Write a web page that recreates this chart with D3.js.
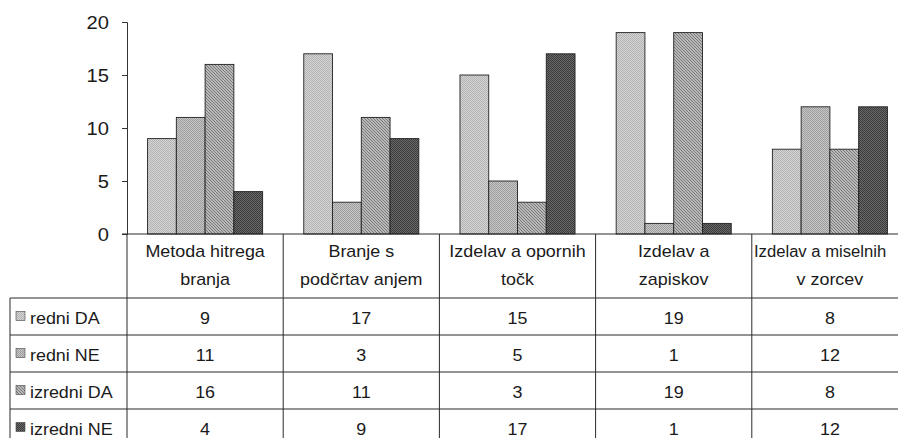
<!DOCTYPE html>
<html><head><meta charset="utf-8">
<script src="https://cdn.jsdelivr.net/npm/d3@7"></script>
<style>html,body{margin:0;padding:0;background:#fff;}svg{display:block;}</style>
</head><body>
<script>
const categories = [["Metoda hitrega","branja"],["Branje s","podčrtav anjem"],["Izdelav a opornih","točk"],["Izdelav a","zapiskov"],["Izdelav a miselnih","v zorcev"]];
const seriesNames = ["redni DA","redni NE","izredni DA","izredni NE"];
const rednDA = [9,17,15,19,8];
const rednNE = [11,3,5,1,12];
const izrDA = [16,11,3,19,8];
const izrNE = [4,9,17,1,12];
const yTicks = [0,5,10,15,20];
const values = [rednDA, rednNE, izrDA, izrNE];

const W = 898, H = 438;
const FONT = "'Liberation Sans', Arial, sans-serif";
const SX = 1.12;
const svg = d3.select("body").append("svg").attr("width", W).attr("height", H);
const defs = svg.append("defs");
const pats = [
  {a:"#d6d6d6", b:"#b2b2b2", diag:false},
  {a:"#c6c6c6", b:"#9e9e9e", diag:false},
  {a:"#b8b8b8", b:"#7a7a7a", diag:true},
  {a:"#6a6a6a", b:"#3a3a3a", diag:false}
];
pats.forEach((p,i)=>{
  if(p.diag){
    const pt = defs.append("pattern").attr("id","p"+i).attr("patternUnits","userSpaceOnUse").attr("width",3).attr("height",3);
    pt.append("rect").attr("width",3).attr("height",3).attr("fill",p.a);
    [0,1,2].forEach(k=>pt.append("rect").attr("x",k).attr("y",k).attr("width",1).attr("height",1).attr("fill",p.b));
  } else {
    const pt = defs.append("pattern").attr("id","p"+i).attr("patternUnits","userSpaceOnUse").attr("width",2).attr("height",2);
    pt.append("rect").attr("width",2).attr("height",2).attr("fill",p.a);
    pt.append("rect").attr("x",0).attr("y",0).attr("width",1).attr("height",1).attr("fill",p.b);
    pt.append("rect").attr("x",1).attr("y",1).attr("width",1).attr("height",1).attr("fill",p.b);
  }
});

const x0 = 127, catW = 156.2;
const x = d3.scaleBand().domain(d3.range(categories.length)).range([x0, x0 + catW*categories.length]).paddingInner(0).paddingOuter(0);
const xs = d3.scaleBand().domain(d3.range(seriesNames.length)).range([0, x.bandwidth()]).paddingInner(0).paddingOuter(0.715);
const y = d3.scaleLinear().domain([0,20]).range([234, 22]);

function stext(g, tx, ty, str, size, anchor, sx){
  return g.append("text").attr("transform", `translate(${tx},${ty}) scale(${sx||SX},1)`)
    .attr("text-anchor", anchor||"middle").attr("font-family", FONT).attr("font-size", size).attr("fill","#1a1a1a").text(str);
}

// bars
const gb = svg.append("g");
categories.forEach((c,ci)=>{
  values.forEach((vals,si)=>{
    gb.append("rect").attr("x", x(ci)+xs(si)).attr("y", y(vals[ci]))
      .attr("width", xs.bandwidth()).attr("height", y(0)-y(vals[ci]))
      .attr("fill", `url(#p${si})`).attr("stroke","#222").attr("stroke-width",0.9);
  });
});

// y axis
const ga = svg.append("g").attr("transform", `translate(${x0},0)`);
const ax = d3.axisLeft(y).tickValues(yTicks).tickSize(5).tickPadding(0).tickFormat(d3.format("d"));
ga.call(ax);
ga.select(".domain").attr("stroke","#333");
ga.selectAll(".tick line").attr("stroke","#333");
ga.selectAll(".tick text").remove();
yTicks.forEach(t=>{
  stext(ga, -18, y(t)+6.5, String(t), 18, "end");
});

// table lines
const lc = "#2a2a2a";
const gt = svg.append("g").attr("stroke", lc).attr("stroke-width", 1);
const rowTops = [298, 335, 372, 409];
const rowH = 37;
gt.append("line").attr("x1", x0-5).attr("x2", W).attr("y1", y(0)).attr("y2", y(0));
rowTops.forEach(r=>{
  gt.append("line").attr("x1", 10).attr("x2", W).attr("y1", r).attr("y2", r);
});
gt.append("line").attr("x1", 10).attr("x2", 10).attr("y1", rowTops[0]).attr("y2", H);
d3.range(categories.length).forEach(ci=>{
  gt.append("line").attr("x1", x(ci)).attr("x2", x(ci)).attr("y1", y(0)).attr("y2", H);
});

// header labels
const gl = svg.append("g");
categories.forEach((c,ci)=>{
  const cx = x(ci) + x.bandwidth()/2;
  const last = ci === categories.length-1;
  if(last){
    stext(gl, 754, 257, c[0], 16, "start", 1.04);
  } else {
    stext(gl, cx, 257, c[0], 16);
  }
  stext(gl, cx, 285, c[1], 16);
});

// rows
seriesNames.forEach((s,si)=>{
  const cy = rowTops[si] + rowH/2;
  gl.append("rect").attr("x",16).attr("y",cy-5).attr("width",9).attr("height",9)
    .attr("fill",`url(#p${si})`).attr("stroke","#444").attr("stroke-width",0.6);
  stext(gl, 30, cy+7, s, 16, "start");
  categories.forEach((c,ci)=>{
    stext(gl, x(ci)+x.bandwidth()/2, cy+7, String(values[si][ci]), 16);
  });
});
</script>
</body></html>
